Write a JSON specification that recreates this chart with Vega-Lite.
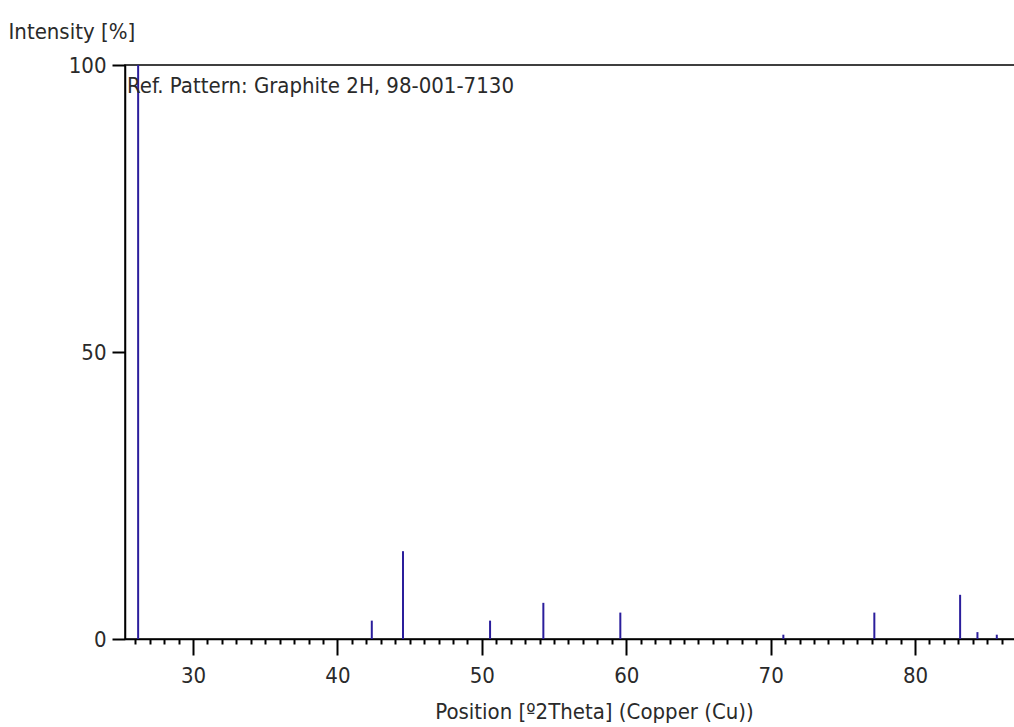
{
  "$schema": "https://vega.github.io/schema/vega-lite/v6.json",
  "width": 891,
  "height": 574,
  "autosize": {"type": "none"},
  "padding": {"left": 125, "top": 65, "right": 0, "bottom": 88},
  "background": "white",
  "config": {
    "view": {"stroke": "black", "strokeWidth": 1.5},
    "font": "Liberation Sans Narrow, DejaVu Sans Condensed, sans-serif",
    "axis": {
      "labelFont": "Liberation Sans Narrow, DejaVu Sans Condensed, sans-serif",
      "titleFont": "Liberation Sans Narrow, DejaVu Sans Condensed, sans-serif",
      "labelColor": "#2a2a2a",
      "titleColor": "#2a2a2a",
      "labelFontSize": 22,
      "titleFontSize": 22,
      "titleFontWeight": "normal",
      "domainColor": "black",
      "domainWidth": 1.5,
      "tickColor": "black",
      "tickWidth": 2,
      "grid": false
    }
  },
  "layer": [
    {
      "data": {
        "values": [
          {"position": 26.2, "intensity": 100},
          {"position": 42.38, "intensity": 3.2},
          {"position": 44.54, "intensity": 15.3},
          {"position": 50.57, "intensity": 3.2},
          {"position": 54.26, "intensity": 6.3},
          {"position": 59.59, "intensity": 4.6},
          {"position": 70.88, "intensity": 0.75},
          {"position": 77.18, "intensity": 4.6},
          {"position": 83.12, "intensity": 7.7},
          {"position": 84.32, "intensity": 1.2},
          {"position": 85.66, "intensity": 0.75}
        ]
      },
      "mark": {"type": "rule", "color": "#2b1e9c", "strokeWidth": 2},
      "encoding": {
        "x": {
          "field": "position",
          "type": "quantitative",
          "scale": {"domain": [25.29, 86.99], "nice": false, "zero": false},
          "axis": {
            "title": "Position [º2Theta] (Copper (Cu))",
            "titleX": 469,
            "titleY": 79,
            "titleAlign": "center",
            "titleBaseline": "alphabetic",
            "tickCount": 200,
            "format": "d",
            "values": [26,27,28,29,30,31,32,33,34,35,36,37,38,39,40,41,42,43,44,45,46,47,48,49,50,51,52,53,54,55,56,57,58,59,60,61,62,63,64,65,66,67,68,69,70,71,72,73,74,75,76,77,78,79,80,81,82,83,84,85,86],
            "labelExpr": "datum.value % 10 === 0 ? format(datum.value, 'd') : ''",
            "tickSize": {"condition": {"test": "datum.value % 10 === 0", "value": 16}, "value": 5},
            "labelPadding": 10,
            "labelFlush": false,
            "labelOverlap": false
          }
        },
        "y": {
          "field": "intensity",
          "type": "quantitative",
          "scale": {"domain": [0, 100], "nice": false},
          "axis": {
            "title": "Intensity [%]",
            "titleAngle": 0,
            "titleAlign": "left",
            "titleBaseline": "alphabetic",
            "titleX": -117,
            "titleY": -27,
            "values": [0, 50, 100],
            "tickSize": 13,
            "labelPadding": 6,
            "labelBaseline": "middle"
          }
        },
        "y2": {"datum": 0}
      }
    },
    {
      "data": {"values": [{"label": "Ref. Pattern: Graphite 2H, 98-001-7130"}]},
      "mark": {
        "type": "text",
        "align": "left",
        "baseline": "alphabetic",
        "dx": 2,
        "dy": 28,
        "fontSize": 22,
        "color": "#2a2a2a",
        "font": "Liberation Sans Narrow, DejaVu Sans Condensed, sans-serif"
      },
      "encoding": {
        "x": {"datum": 25.29, "type": "quantitative"},
        "y": {"datum": 100, "type": "quantitative"},
        "text": {"field": "label", "type": "nominal"}
      }
    }
  ]
}
